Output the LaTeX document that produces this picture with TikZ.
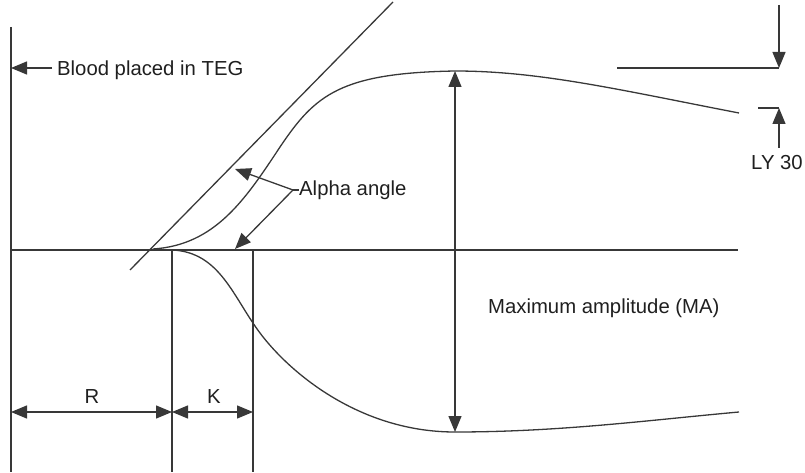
\documentclass[tikz,border=0pt]{standalone}
\usepackage{fontspec}
\setmainfont{Liberation Sans}
\usetikzlibrary{arrows.meta}
\begin{document}
\begin{tikzpicture}[x=1pt,y=-1pt,
  ln/.style={draw=black!78, line width=1.3pt},
  tip/.tip={Triangle[length=16pt,width=13pt]},
  arr/.style={ln, -tip},
  dbl/.style={ln, tip-tip},
  lbl/.style={font=\fontsize{20.3}{24}\selectfont, text=black!88, inner sep=0pt}]
\useasboundingbox (0,0) rectangle (805,473);
% coordinates
\coordinate (lt) at (11,27);
\coordinate (lb) at (11,472);
\coordinate (b0) at (11,250);
\coordinate (b1) at (738,250);
\coordinate (t0) at (130,270);
\coordinate (t1) at (393,2);
\coordinate (rk) at (172,250);
\coordinate (rkb) at (172,472);
\coordinate (kk) at (253,250);
\coordinate (kkb) at (253,472);
\coordinate (dl) at (11,412);
\coordinate (dm) at (172,412);
\coordinate (dr) at (253,412);
\coordinate (mat) at (455,71);
\coordinate (mab) at (455,432);
\coordinate (bs) at (52,68);
\coordinate (be) at (11,68);
\coordinate (av) at (293,190);
\coordinate (atu) at (235,169);
\coordinate (atl) at (235,249);
\coordinate (lys) at (779,5);
\coordinate (lyt) at (779,68);
\coordinate (lyh) at (617,68);
\coordinate (lbs) at (779,148);
\coordinate (lbt) at (779,108);
\coordinate (lbh) at (758,108);
\coordinate (us) at (153,249);
\coordinate (um) at (280,147);
\coordinate (ue) at (739,113);
\coordinate (ls) at (172,250);
\coordinate (lm) at (260,333);
\coordinate (le) at (739,412);
% labels
\node[lbl, anchor=base west] (blood) at (57,76) {Blood placed in TEG};
\node[lbl, anchor=base west] (alpha) at (299,195) {Alpha angle};
\node[lbl, anchor=base west] (ma) at (488,313) {Maximum amplitude (MA)};
\node[lbl, anchor=base] (R) at (92,403) {R};
\node[lbl, anchor=base] (K) at (214,403) {K};
\node[lbl, anchor=base] (ly) at (777,170) {LY 30};
% axes and guides
\draw[ln] (lt) -- (lb);
\draw[ln] (b0) -- (b1);
\draw[ln] (t0) -- (t1);
\draw[ln] (rk) -- (rkb);
\draw[ln] (kk) -- (kkb);
% curves
\draw[ln] (us) .. controls (215,245) and (245,200) .. (um)
  .. controls (315,95) and (340,73) .. (mat)
  .. controls (540,71) and (620,90) .. (ue);
\draw[ln] (ls) .. controls (220,252) and (233,297) .. (lm)
  .. controls (290,373) and (360,432) .. (mab)
  .. controls (560,432) and (650,420) .. (le);
% arrows
\draw[arr] (bs) -- (be);
\draw[dbl] (mab) -- (mat);
\draw[dbl] (dl) -- (dm);
\draw[dbl] (dm) -- (dr);
\draw[arr] (av) -- (atu);
\draw[arr] (av) -- (atl);
\draw[ln] (av) -- (alpha.west |- av);
\draw[arr] (lys) -- (lyt);
\draw[ln] (lyh) -- (lyt);
\draw[arr] (lbs) -- (lbt);
\draw[ln] (lbh) -- (lbt);
\end{tikzpicture}
\end{document}
